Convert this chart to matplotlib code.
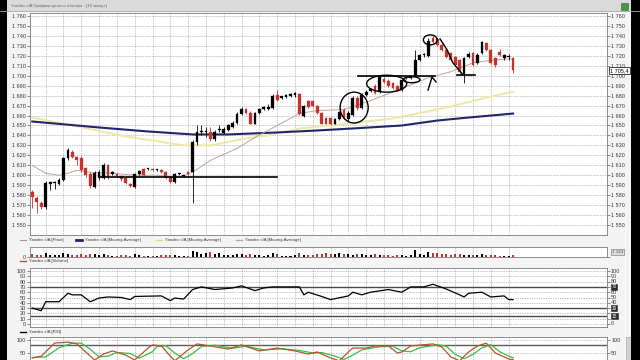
import numpy as np
import matplotlib.pyplot as plt
from matplotlib.patches import Ellipse, Rectangle
from matplotlib.lines import Line2D
from matplotlib.transforms import blended_transform_factory

plt.rcParams['font.family'] = ['Liberation Sans', 'DejaVu Sans']

# daily candles
opens = [1583, 1577, 1572, 1568, 1591, 1592, 1591, 1595, 1617, 1623,
         1618, 1617, 1607, 1601, 1588, 1597, 1597, 1610, 1601, 1601,
         1599, 1597, 1591, 1588, 1601, 1606, 1606, 1606, 1605, 1605,
         1603, 1598, 1593, 1601, 1599, 1603, 1603, 1633, 1643, 1643,
         1643, 1636, 1645, 1642, 1645, 1648, 1653, 1662, 1667, 1663,
         1652, 1663, 1667, 1667, 1668, 1681, 1678, 1679, 1680, 1681,
         1682, 1660, 1675, 1675, 1670, 1663, 1658, 1658, 1652, 1657,
         1666, 1657, 1661, 1678, 1668, 1681, 1685, 1690, 1684, 1697,
         1695, 1693, 1690, 1686, 1698, 1698, 1701, 1716, 1721, 1720,
         1738, 1737, 1731, 1726, 1723, 1719, 1716, 1701, 1719, 1723,
         1713, 1723, 1733, 1726, 1718, 1724, 1718, 1719, 1718]
highs = [1585, 1579, 1574, 1594, 1594, 1594, 1597, 1618, 1627, 1625,
         1619, 1619, 1608, 1603, 1604, 1605, 1612, 1611, 1604, 1602,
         1600, 1598, 1592, 1602, 1605, 1607, 1607, 1607, 1606, 1606,
         1604, 1599, 1602, 1602, 1600, 1604, 1635, 1650, 1650, 1648,
         1648, 1645, 1650, 1648, 1652, 1655, 1664, 1669, 1668, 1665,
         1664, 1668, 1670, 1672, 1682, 1686, 1680, 1682, 1683, 1684,
         1683, 1671, 1676, 1676, 1671, 1664, 1659, 1659, 1658, 1665,
         1668, 1665, 1680, 1680, 1683, 1686, 1688, 1692, 1701, 1699,
         1697, 1694, 1691, 1697, 1700, 1700, 1726, 1722, 1723, 1738,
         1740, 1738, 1732, 1727, 1724, 1720, 1717, 1719, 1724, 1724,
         1723, 1735, 1734, 1727, 1719, 1727, 1722, 1722, 1719]
lows = [1567, 1562, 1566, 1566, 1585, 1586, 1590, 1594, 1615, 1617,
        1610, 1603, 1598, 1587, 1587, 1595, 1596, 1596, 1600, 1598,
        1594, 1591, 1588, 1587, 1600, 1599, 1605, 1604, 1604, 1602,
        1596, 1592, 1592, 1600, 1598, 1600, 1572, 1630, 1640, 1638,
        1634, 1634, 1643, 1641, 1644, 1647, 1652, 1661, 1662, 1651,
        1651, 1662, 1666, 1666, 1667, 1675, 1677, 1678, 1679, 1679,
        1661, 1659, 1668, 1669, 1662, 1651, 1651, 1650, 1651, 1656,
        1657, 1655, 1660, 1666, 1667, 1680, 1684, 1682, 1683, 1693,
        1689, 1687, 1685, 1685, 1697, 1697, 1700, 1715, 1719, 1719,
        1733, 1730, 1725, 1718, 1715, 1710, 1703, 1693, 1718, 1710,
        1712, 1722, 1725, 1712, 1709, 1720, 1716, 1716, 1703]
closes = [1578, 1573, 1568, 1592, 1593, 1592.5, 1595, 1617, 1625, 1618,
          1615, 1605, 1600, 1589, 1602, 1603, 1610, 1598, 1603, 1599,
          1596, 1592, 1589, 1601, 1604, 1600, 1606.5, 1605, 1605.5, 1603,
          1597, 1593, 1601, 1601.5, 1599.5, 1601, 1633, 1643, 1643.5, 1643.5,
          1636, 1643, 1646, 1646, 1650, 1653, 1662, 1667, 1663, 1652,
          1663, 1667, 1667.5, 1668, 1680, 1676, 1678.5, 1679.5, 1680.5, 1681.5,
          1662, 1670, 1669, 1670, 1663, 1652, 1652, 1651, 1657, 1664,
          1659, 1663, 1678, 1668, 1681, 1684, 1686, 1683, 1699, 1694,
          1690, 1688, 1686, 1696, 1698.5, 1699, 1716, 1721, 1722, 1735,
          1734, 1731, 1726, 1719, 1716, 1711, 1704, 1718, 1722, 1711,
          1721, 1734, 1726, 1713, 1711, 1721, 1721, 1720, 1705.4]
volumes = [3, 2, 2, 4, 2, 2, 2, 4, 3, 2,
           2, 3, 2, 3, 3, 2, 3, 2, 1, 1,
           2, 2, 1, 3, 2, 1, 1, 1, 1, 2,
           2, 2, 2, 1, 1, 1, 6, 5, 3, 4,
           5, 3, 4, 2, 2, 2, 3, 3, 2, 3,
           2, 2, 1, 2, 4, 3, 1, 1, 1, 2,
           4, 2, 2, 2, 3, 3, 4, 3, 3, 4,
           3, 3, 2, 3, 3, 2, 2, 3, 2, 2,
           2, 1, 2, 2, 1, 2, 7, 3, 2, 5,
           4, 4, 3, 3, 2, 3, 3, 2, 2, 2,
           2, 3, 2, 2, 2, 1, 1, 1, 2]

# moving averages (read at some candles)
ma_thin_idx = [0, 3, 6, 8, 10, 13, 18, 23, 28, 33, 36, 40, 46, 50, 55, 60, 64, 70, 76, 84, 89, 94, 99, 104, 108]
ma_thin = [1610, 1602, 1600, 1602, 1605, 1603, 1602, 1600, 1600, 1598, 1603, 1615, 1627,
           1638, 1650, 1662, 1665, 1666, 1675, 1689, 1698, 1704, 1713, 1716, 1717]
ma_navy_idx = [0, 15, 26, 36, 44, 55, 64, 72, 83, 91, 98, 108]
ma_navy = [1654, 1648, 1644, 1641, 1641, 1643, 1645, 1647, 1650, 1655, 1658, 1662]
ma_yel_idx = [0, 8, 21, 34, 40, 48, 53, 60, 69, 81, 94, 102, 108]
ma_yel = [1658, 1651, 1639, 1630, 1630, 1637, 1640, 1647, 1651, 1657, 1669, 1678, 1684]

# oscillator panel
osc_idx = [0, 2, 3, 6, 8, 9, 11, 13, 15, 17, 20, 22, 23, 29, 31, 32, 34, 36, 38, 41,
           45, 47, 50, 52, 54, 58, 60, 61, 62, 65, 67, 71, 72, 74, 76, 80, 83, 85, 88, 90,
           93, 96, 97, 98, 101, 103, 106, 107, 108]
osc = [30, 25, 42, 42, 58, 55, 55, 42, 49, 51, 50, 46, 52, 53, 44, 49, 47, 65, 70, 65,
       68, 72, 63, 68, 70, 70, 70, 55, 60, 52, 46, 53, 60, 55, 60, 65, 60, 70, 70, 75,
       66, 55, 51, 58, 60, 51, 53, 46, 46]
osc_levels = [70, 30, 15]

# stochastic panel
st_idx = [0, 2, 5, 8, 10, 12, 14, 16, 18, 21, 23, 26, 27, 29, 31, 32, 35, 37, 40, 44,
          47, 51, 55, 59, 62, 64, 67, 69, 71, 72, 75, 77, 80, 82, 83, 85, 90, 92, 94, 96,
          98, 100, 102, 104, 106, 107, 108]
st_red = [31, 38, 88, 92, 85, 54, 23, 46, 58, 42, 23, 69, 81, 77, 38, 20, 62, 85, 77, 65,
          81, 58, 69, 58, 46, 54, 31, 20, 54, 69, 69, 77, 77, 50, 54, 77, 85, 73, 35, 20,
          54, 77, 88, 50, 35, 27, 25]
sg_idx = [0, 3, 6, 9, 11, 13, 15, 17, 19, 22, 24, 27, 28, 30, 32, 34, 36, 38, 41, 45,
          48, 52, 56, 60, 63, 65, 68, 70, 72, 74, 76, 78, 81, 83, 85, 87, 91, 93, 95, 97,
          99, 101, 103, 105, 107, 108]
st_green = [33, 35, 70, 88, 88, 65, 35, 38, 52, 48, 30, 55, 75, 78, 50, 28, 48, 75, 80, 68,
            76, 62, 66, 60, 50, 52, 38, 25, 42, 62, 68, 74, 76, 58, 55, 70, 82, 76, 45, 28,
            45, 70, 82, 55, 38, 32]

price_ticks = list(range(1550, 1770, 10))
osc_ticks = list(range(0, 110, 10))
osc_right_ticks = [100, 90, 80, 60, 50, 40, 0]

W, H = 640, 360
RED = '#c8322d'
GRID = '#8a8a8a'
TXT = '#3a3a3a'
FS = 4


def box(x0, y0, x1, y1):
    return [x0 / W, 1 - y1 / H, (x1 - x0) / W, (y1 - y0) / H]


def fx(x):
    return x / W


def fy(y):
    return 1 - y / H


fig = plt.figure(figsize=(6.4, 3.6), dpi=100, facecolor='#f4f4f4')

ax_p = fig.add_axes(box(30, 13, 607, 235))
ax_v = fig.add_axes(box(30, 247, 607, 257))
ax_o = fig.add_axes(box(30, 268, 607, 327))
ax_s = fig.add_axes(box(30, 337, 607, 372))

idx = np.arange(len(closes))
grid_idx = list(range(3, 108, 4))


def style(ax, ylim, yt, ylab):
    ax.set_xlim(-0.52, 129.1)
    ax.set_ylim(*ylim)
    ax.set_facecolor('white')
    ax.set_xticks(grid_idx)
    ax.set_yticks(yt)
    ax.set_yticklabels(ylab)
    ax.tick_params(axis='x', length=0, labelbottom=False)
    ax.tick_params(axis='y', labelsize=FS, colors=TXT, length=2, width=0.4, pad=1,
                   left=True, right=True, labelleft=True, labelright=True)
    ax.grid(True, color=GRID, lw=0.5, ls=(0, (1, 1.5)))
    ax.set_axisbelow(True)
    for s in ax.spines.values():
        s.set_color('#7a7a7a')
        s.set_linewidth(0.6)


# price panel
style(ax_p, (1540, 1763), price_ticks, [f'{v:,}'.replace(',', ' ') for v in price_ticks])
o = np.array(opens)
c = np.array(closes)
col = np.where(c >= o, 'black', RED)
ax_p.plot(ma_yel_idx, ma_yel, color='#efe7a6', lw=1.4, zorder=2)
ax_p.plot(ma_navy_idx, ma_navy, color='#1f2766', lw=1.5, zorder=2)
ax_p.plot(ma_thin_idx, ma_thin, color='#bfa39c', lw=0.7, zorder=2)
ax_p.vlines(idx, lows, highs, color=col, lw=0.6, zorder=3)
ax_p.bar(idx, np.maximum(np.abs(c - o), 1.2), bottom=np.minimum(o, c), width=0.62,
         color=col, edgecolor=col, lw=0.2, zorder=4)

# hand drawn marks
ax_p.plot([15.2, 55], [1598.5, 1598.5], color='black', lw=1.2, zorder=5)
ax_p.plot([73.2, 90.5], [1700, 1700], color='black', lw=1.2, zorder=5)
ax_p.plot([95.4, 99.5], [1701, 1701], color='black', lw=1.2, zorder=5)
for (cx, cy, w, h) in [(72.3, 1668, 6.3, 31), (79.6, 1692, 9, 17), (85.2, 1696, 3.8, 6), (89.4, 1736, 3.1, 10)]:
    ax_p.add_patch(Ellipse((cx, cy), w, h, fill=False, ec='black', lw=1.0, zorder=5))
ax_p.plot([88.9, 89.8, 90.7], [1685.6, 1698.7, 1693.7], color='black', lw=1.0, zorder=5)
ax_p.plot([91.6, 93.2, 94.5, 96.6], [1736.9, 1725.8, 1712.8, 1701.7], color='black', lw=1.0, zorder=5)

tr = blended_transform_factory(ax_p.transAxes, ax_p.transData)
ax_p.text(1.006, 1705.4, '1 705,4', transform=tr, fontsize=FS, va='center', ha='left', color='black',
          bbox=dict(fc='white', ec='black', lw=0.5, pad=0.8), zorder=6, clip_on=False)

# volume panel
style(ax_v, (0, 10), [0], ['0'])
ax_v.tick_params(axis='y', labelright=False)
ax_v.grid(axis='y', visible=False)
ax_v.bar(idx, volumes, width=0.45, color=col)
trv = blended_transform_factory(ax_v.transAxes, ax_v.transData)
ax_v.text(1.008, 5, '1 143', transform=trv, fontsize=3.2, va='center', ha='left', color='#555555',
          bbox=dict(fc='#dcdcdc', ec='#707070', lw=0.4, pad=0.6), clip_on=False)

# oscillator panel
style(ax_o, (-5.7, 105.7), osc_ticks, [str(v) for v in osc_ticks])
ax_o.tick_params(axis='y', labelright=False)
ax_o.plot(osc_idx, osc, color='black', lw=0.9, zorder=3)
tro = blended_transform_factory(ax_o.transAxes, ax_o.transData)
for v in osc_right_ticks:
    ax_o.text(1.006, v, str(v), transform=tro, fontsize=FS, va='center', ha='left', color=TXT, clip_on=False)
for lvl in osc_levels:
    ax_o.axhline(lvl, color='#4a4a4a', lw=1.0, zorder=2)
    ax_o.text(1.008, lvl, str(lvl), transform=tro, fontsize=3.4, va='center', ha='left', color='white',
              bbox=dict(fc='#2a2a2a', ec='#2a2a2a', lw=0.4, pad=0.5), clip_on=False, zorder=6)

# stochastic panel
style(ax_s, (-23, 111.5), [50, 100], ['50', '100'])
ax_s.axhline(80, color='#5a5a5a', lw=1.0, zorder=2)
ax_s.plot(sg_idx, st_green, color='#3dbb45', lw=0.9, zorder=3)
ax_s.plot(st_idx, st_red, color='#b5562a', lw=0.9, zorder=4)


# legends below panels
def legend_item(x, y, color, lw, text):
    fig.add_artist(Line2D([fx(x), fx(x + 6)], [fy(y), fy(y)], color=color, lw=lw,
                          transform=fig.transFigure))
    fig.text(fx(x + 9), fy(y), text, fontsize=3.2, va='center', ha='left', color=TXT)


legend_item(20, 240, '#9a9a9a', 0.8, 'Yandex clA [Price]')
legend_item(76, 240, '#1f2766', 2.0, 'Yandex clA [Moving Average]')
legend_item(156, 240, '#e6dc98', 1.0, 'Yandex clA [Moving Average]')
legend_item(236, 240, '#bfa39c', 1.0, 'Yandex clA [Moving Average]')
legend_item(20, 261, '#b5562a', 1.0, 'Yandex clA [Volume]')
legend_item(20, 332, 'black', 1.0, 'Yandex clA [RSI]')

# window chrome
fig.add_artist(Rectangle((0, fy(11)), 1, 11 / H, transform=fig.transFigure, fc='#dadada', ec='none'))
fig.add_artist(Line2D([0, 1], [fy(11), fy(11)], color='#a8a8a8', lw=0.6, transform=fig.transFigure))
fig.text(fx(11), fy(6), 'Yandex clA Графики цены и объема - [15 минут]', fontsize=3.2,
         va='center', ha='left', color='#6a6a6a')
fig.add_artist(Rectangle((fx(621), fy(10)), 7 / W, 7 / H, transform=fig.transFigure,
                         fc='#3e9a48', ec='#2a6a30', lw=0.4))
fig.add_artist(Rectangle((fx(626), fy(360)), 5 / W, 23 / H, transform=fig.transFigure,
                         fc='#d0d0d0', ec='#a0a0a0', lw=0.4))
fig.add_artist(Rectangle((0, 0), 7 / W, 1, transform=fig.transFigure, fc='black', ec='none'))
fig.add_artist(Rectangle((fx(631), 0), 9 / W, 1, transform=fig.transFigure, fc='black', ec='none'))

fig.savefig('out.png', dpi=100, facecolor=fig.get_facecolor())
plt.close()
